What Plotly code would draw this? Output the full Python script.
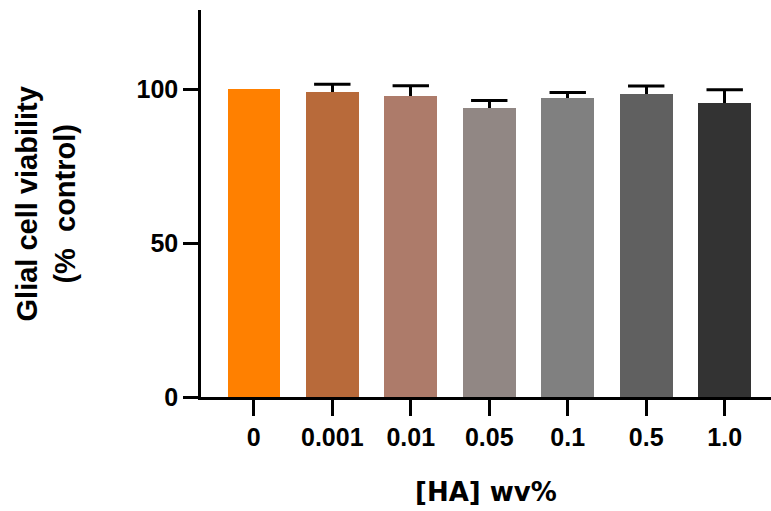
import plotly.graph_objects as go

# HA concentrations (wv%) and glial cell viability (% of control)
concentrations = ["0", "0.001", "0.01", "0.05", "0.1", "0.5", "1.0"]
viability = [100.0, 99.1, 98.0, 94.1, 97.1, 98.6, 95.6]
sem = [0.0, 2.6, 3.2, 2.3, 1.9, 2.5, 4.3]
bar_colors = ["#FF8000", "#B86A3A", "#AD7B6A", "#918784", "#808080", "#606060", "#333333"]

y_ticks = [0, 50, 100]

TICK_FONT = dict(family="Liberation Sans, Arial, sans-serif", size=25, color="#000000", weight="bold")

x_pos = list(range(len(concentrations)))

fig = go.Figure()

# Bars with upward-only error stems
fig.add_trace(
    go.Bar(
        x=x_pos,
        y=viability,
        width=0.67,
        marker=dict(color=bar_colors, line=dict(width=0)),
        error_y=dict(
            type="data",
            symmetric=False,
            array=sem,
            arrayminus=[0] * len(sem),
            color="#000000",
            thickness=3,
            width=0,
            visible=True,
        ),
    )
)

# Caps on top of the error stems only (no cap where the error is zero)
cap_x = [x for x, e in zip(x_pos, sem) if e > 0]
cap_y = [v + e for v, e in zip(viability, sem) if e > 0]
fig.add_trace(
    go.Scatter(
        x=cap_x,
        y=cap_y,
        mode="markers",
        marker=dict(symbol="line-ew", size=26, line=dict(width=3, color="#000000")),
        hoverinfo="skip",
    )
)

fig.update_layout(
    width=771,
    height=511,
    margin=dict(l=201, r=0, t=10, b=114),
    paper_bgcolor="#FFFFFF",
    plot_bgcolor="#FFFFFF",
    showlegend=False,
    bargap=0,
)

fig.update_xaxes(
    range=[-0.673, 6.59],
    tickmode="array",
    tickvals=x_pos,
    ticktext=concentrations,
    ticks="outside",
    ticklen=16,
    tickwidth=3,
    tickcolor="#000000",
    showline=True,
    linewidth=2.5,
    linecolor="#000000",
    showgrid=False,
    zeroline=False,
    tickfont=TICK_FONT,
)

fig.update_yaxes(
    range=[0, 125.8],
    tickmode="array",
    tickvals=y_ticks,
    ticktext=[str(v) for v in y_ticks],
    ticks="outside",
    ticklen=15,
    tickwidth=3,
    tickcolor="#000000",
    showline=True,
    linewidth=2.5,
    linecolor="#000000",
    showgrid=False,
    zeroline=False,
    tickfont=TICK_FONT,
)

# Axis titles
fig.add_annotation(
    text="Glial cell viability<br>(%  control)",
    xref="paper", yref="paper",
    x=-0.272, y=0.5,
    xanchor="center", yanchor="middle",
    textangle=-90,
    showarrow=False,
    font=dict(family="Liberation Sans, Arial, sans-serif", size=29, color="#000000", weight="bold"),
)
fig.add_annotation(
    text="[HA] wv%",
    xref="paper", yref="paper",
    x=0.5, y=-0.2455,
    xanchor="center", yanchor="middle",
    showarrow=False,
    font=dict(family="DejaVu Sans, Verdana, sans-serif", size=26, color="#000000", weight="bold"),
)

fig.write_html("out.html")
